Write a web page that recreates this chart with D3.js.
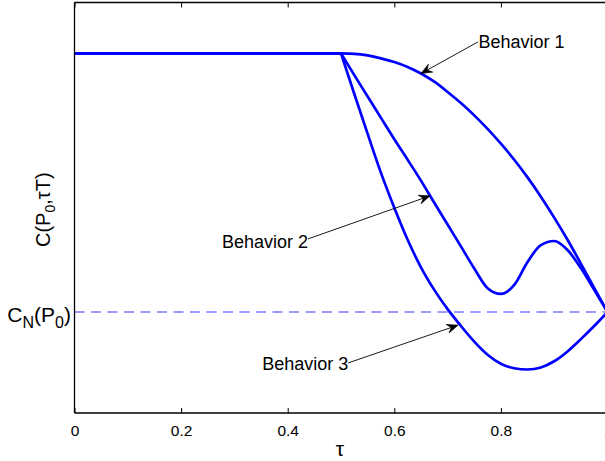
<!DOCTYPE html>
<html><head><meta charset="utf-8">
<script src="https://cdn.jsdelivr.net/npm/d3@7"></script>
<style>
html,body{margin:0;padding:0;background:#fff;}
svg{display:block;font-family:"Liberation Sans",Arial,sans-serif;}
</style></head>
<body>
<svg id="chart" width="605" height="461"></svg>
<script>
// ---- data ----
const tau = [0, 0.5, 0.525, 0.55, 0.575, 0.6, 0.625, 0.65, 0.675, 0.7, 0.725, 0.75,
             0.775, 0.8, 0.825, 0.85, 0.875, 0.9, 0.925, 0.95, 0.975, 1.0];
const behavior1 = [8.76, 8.76, 8.75, 8.71, 8.64, 8.55, 8.43, 8.27, 8.07, 7.82, 7.55, 7.25,
                   6.92, 6.56, 6.17, 5.74, 5.27, 4.76, 4.22, 3.64, 3.05, 2.46];
const behavior2 = [8.76, 8.76, 8.23, 7.71, 7.19, 6.67, 6.17, 5.66, 5.12, 4.59, 4.06, 3.52,
                   3.04, 2.90, 3.12, 3.68, 4.09, 4.19, 3.97, 3.53, 3.00, 2.46];
const behavior3 = [8.76, 8.76, 7.77, 6.80, 5.85, 5.00, 4.22, 3.55, 3.00, 2.53, 2.12, 1.74,
                   1.42, 1.20, 1.09, 1.06, 1.11, 1.26, 1.50, 1.80, 2.12, 2.46];
const cNValue = 2.46;
const xTicks = [0, 0.2, 0.4, 0.6, 0.8, 1];
const xTickLabels = ["0", "0.2", "0.4", "0.6", "0.8", "1"];
// annotations
const annLabels = ["Behavior 1", "Behavior 2", "Behavior 3"];
const annTextPos = [[0.758, 8.88, "start"], [0.438, 4.03, "end"], [0.5135, 1.05, "end"]];
const annTail = [[0.757, 9.04], [0.438, 4.24], [0.5135, 1.22]];
const annTip = [[0.650, 8.27], [0.667, 5.29], [0.7195, 2.14]];

(function () {
// ---- layout ----
const svg = d3.select("#chart");
const mLeft = 74.5, mRight = 607.5, mTop = 2.5, mBottom = 413;
const x = d3.scaleLinear().domain([0, 1]).range([mLeft, mRight]);
const y = d3.scaleLinear().domain([0, 10]).range([mBottom, mTop]);

// dashed reference line
svg.append("line")
  .attr("x1", x(0)).attr("x2", x(1))
  .attr("y1", y(cNValue)).attr("y2", y(cNValue))
  .attr("stroke", "#7b7bff").attr("stroke-width", 1.6)
  .attr("stroke-dasharray", "10,6.5");

// curves
const series = [behavior1, behavior2, behavior3];
const line = d3.line().x(d => x(d[0])).y(d => y(d[1])).curve(d3.curveMonotoneX);
series.forEach(vals => {
  const pts = tau.map((t, i) => [t, vals[i]]);
  const head = pts.filter(p => p[0] <= 0.5);
  const tail = pts.filter(p => p[0] >= 0.5);
  [head, tail].forEach(seg => {
    svg.append("path").attr("d", line(seg))
      .attr("fill", "none").attr("stroke", "#0000ff")
      .attr("stroke-width", 2.7).attr("stroke-linejoin", "round");
  });
});

// axes box
const axisG = svg.append("g").attr("stroke", "#000").attr("stroke-width", 1.3).attr("fill", "none");
axisG.append("line").attr("x1", mLeft).attr("x2", mLeft).attr("y1", mTop).attr("y2", mBottom);
axisG.append("line").attr("x1", mLeft).attr("x2", mRight).attr("y1", mBottom).attr("y2", mBottom);
axisG.append("line").attr("x1", mLeft).attr("x2", mRight).attr("y1", mTop).attr("y2", mTop);
axisG.append("line").attr("x1", mRight).attr("x2", mRight).attr("y1", mTop).attr("y2", mBottom);

// ticks (inward) on bottom and top
const bottomAxis = d3.axisBottom(x).tickValues(xTicks).tickSize(-5)
  .tickFormat((d, i) => xTickLabels[i]).tickPadding(12);
const gb = svg.append("g").attr("transform", `translate(0,${mBottom})`).call(bottomAxis);
gb.select(".domain").remove();
gb.selectAll("line").attr("stroke", "#000").attr("stroke-width", 1);
gb.selectAll("text").attr("font-size", "15.5px").attr("fill", "#000")
  .attr("font-family", "Liberation Sans, Arial, sans-serif");
const topAxis = d3.axisTop(x).tickValues(xTicks).tickSize(-5).tickFormat("");
const gt = svg.append("g").attr("transform", `translate(0,${mTop})`).call(topAxis);
gt.select(".domain").remove();
gt.selectAll("line").attr("stroke", "#000").attr("stroke-width", 1);

// x label
svg.append("text").attr("x", x(0.5) - 1).attr("y", 456)
  .attr("text-anchor", "middle").attr("font-size", "21px").text("τ");

// y label
const yl = svg.append("text")
  .attr("transform", `translate(50,${y(5) + 2}) rotate(-90)`)
  .attr("text-anchor", "middle").attr("font-size", "20px");
yl.append("tspan").text("C(P");
yl.append("tspan").attr("font-size", "14px").attr("dy", 5).text("0");
yl.append("tspan").attr("dy", -5).text(",τT)");

// C_N(P_0) tick label
const cl = svg.append("text").attr("x", 71).attr("y", y(cNValue) + 10)
  .attr("text-anchor", "end").attr("font-size", "21px");
cl.append("tspan").text("C");
cl.append("tspan").attr("font-size", "16px").attr("dy", 6).text("N");
cl.append("tspan").attr("dy", -6).text("(P");
cl.append("tspan").attr("font-size", "16px").attr("dy", 6).text("0");
cl.append("tspan").attr("dy", -6).text(")");

// annotations
annLabels.forEach((lab, i) => {
  const [tx, ty, anchor] = annTextPos[i];
  svg.append("text").attr("x", x(tx)).attr("y", y(ty))
    .attr("text-anchor", anchor).attr("font-size", "18px").text(lab);
  const [ax0, ay0] = annTail[i], [ax1, ay1] = annTip[i];
  const X0 = x(ax0), Y0 = y(ay0), X1 = x(ax1), Y1 = y(ay1);
  svg.append("line").attr("x1", X0).attr("y1", Y0).attr("x2", X1).attr("y2", Y1)
    .attr("stroke", "#000").attr("stroke-width", 0.9);
  const ang = Math.atan2(Y1 - Y0, X1 - X0) * 180 / Math.PI;
  svg.append("path").attr("d", "M0,0 L-11,-4.5 L-7,0 L-11,4.5 Z")
    .attr("transform", `translate(${X1},${Y1}) rotate(${ang})`)
    .attr("fill", "#000").attr("stroke", "#000").attr("stroke-width", 0.6)
    .attr("stroke-linejoin", "miter");
});
})();
</script>
</body></html>
